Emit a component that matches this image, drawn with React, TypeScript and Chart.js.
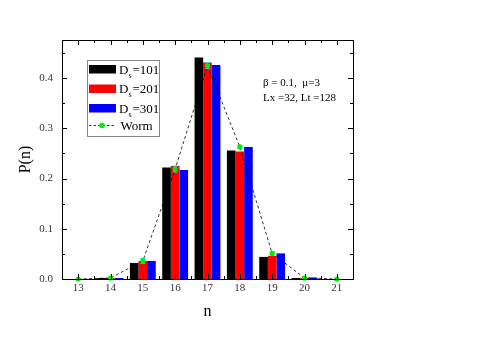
import React, { useEffect, useRef } from "react";
import { Chart, registerables } from "chart.js";

Chart.register(...registerables);

const categories = ["13", "14", "15", "16", "17", "18", "19", "20", "21"];
const ds101 = [0, 0.002, 0.032, 0.222, 0.441, 0.256, 0.044, 0.002, 0];
const ds201 = [0, 0.002, 0.036, 0.225, 0.431, 0.254, 0.046, 0.002, 0];
const ds301 = [0, 0.002, 0.036, 0.217, 0.426, 0.263, 0.051, 0.003, 0];
const worm = [0, 0.002, 0.036, 0.219, 0.425, 0.263, 0.051, 0.002, 0];
const wormErr = [0, 0.001, 0.005, 0.006, 0.006, 0.003, 0.003, 0.001, 0];
const yTicks = [0, 0.1, 0.2, 0.3, 0.4];
const legendLabels = ["101", "201", "301"];
const legendColors = ["#000000", "#ff0000", "#0000ff"];
const noteLines = ["\u03b2 = 0.1,  \u03bc=3", "Lx =32, Lt =128"];

const SERIF = "'Liberation Serif', 'Times New Roman', serif";

const framePlugin = {
  id: "frame",
  afterDatasetsDraw(chart: any) {
    const ctx = chart.ctx;
    const y = chart.scales.y;
    const meta = chart.getDatasetMeta(0);
    ctx.save();
    ctx.strokeStyle = "#00e0ff";
    ctx.lineWidth = 1;
    meta.data.forEach((pt: any, i: number) => {
      const e = wormErr[i];
      if (!e) return;
      const y1 = y.getPixelForValue(worm[i] + e);
      const y2 = y.getPixelForValue(worm[i] - e);
      ctx.beginPath();
      ctx.moveTo(pt.x, y1);
      ctx.lineTo(pt.x, y2);
      ctx.moveTo(pt.x - 2.5, y1);
      ctx.lineTo(pt.x + 2.5, y1);
      ctx.moveTo(pt.x - 2.5, y2);
      ctx.lineTo(pt.x + 2.5, y2);
      ctx.stroke();
    });
    ctx.fillStyle = "#00ee00";
    meta.data.forEach((pt: any) => {
      ctx.beginPath();
      ctx.arc(pt.x, pt.y, 2.6, 0, Math.PI * 2);
      ctx.fill();
    });
    ctx.restore();
  },
  afterDraw(chart: any) {
    const ctx = chart.ctx;
    const { left, right, top, bottom } = chart.chartArea;
    const x = chart.scales.x;
    const y = chart.scales.y;
    ctx.save();
    ctx.strokeStyle = "#000";
    ctx.lineWidth = 1;
    ctx.strokeRect(Math.round(left) + 0.5, Math.round(top) + 0.5, Math.round(right - left), Math.round(bottom - top));
    ctx.beginPath();
    for (let v = 0; v <= 0.476; v += 0.05) {
      const py = Math.round(y.getPixelForValue(v)) + 0.5;
      const major = Math.abs(v * 10 - Math.round(v * 10)) < 1e-6;
      const len = major ? 5 : 3;
      ctx.moveTo(left, py);
      ctx.lineTo(left + len, py);
      ctx.moveTo(right, py);
      ctx.lineTo(right - len, py);
    }
    for (let i = 0; i < categories.length; i++) {
      const px = Math.round(x.getPixelForValue(i)) + 0.5;
      ctx.moveTo(px, bottom);
      ctx.lineTo(px, bottom - 5);
      ctx.moveTo(px, top);
      ctx.lineTo(px, top + 5);
      if (i < categories.length - 1) {
        const hx = Math.round((x.getPixelForValue(i) + x.getPixelForValue(i + 1)) / 2) + 0.5;
        ctx.moveTo(hx, bottom);
        ctx.lineTo(hx, bottom - 3);
        ctx.moveTo(hx, top);
        ctx.lineTo(hx, top + 3);
      }
    }
    ctx.stroke();

    const lx = 87, ly = 60, lw = 72, lh = 76;
    ctx.strokeStyle = "#888";
    ctx.strokeRect(lx + 0.5, ly + 0.5, lw, lh);
    ctx.textBaseline = "alphabetic";
    for (let i = 0; i < 3; i++) {
      const ry = 65 + i * 19.5;
      ctx.fillStyle = legendColors[i];
      ctx.fillRect(89, ry, 27, 8.5);
      ctx.fillStyle = "#000";
      ctx.font = `13px ${SERIF}`;
      const base = ry + 8.5;
      ctx.fillText("D", 119, base);
      const dw = ctx.measureText("D").width;
      ctx.font = `8px ${SERIF}`;
      ctx.fillText("s", 119 + dw, base + 4);
      ctx.font = `13px ${SERIF}`;
      ctx.fillText("=" + legendLabels[i], 119 + dw + 4, base);
    }
    const wy = 125.5;
    ctx.strokeStyle = "#000";
    ctx.lineWidth = 0.8;
    ctx.setLineDash([2.5, 2]);
    ctx.beginPath();
    ctx.moveTo(89, wy);
    ctx.lineTo(116, wy);
    ctx.stroke();
    ctx.setLineDash([]);
    ctx.fillStyle = "#00ee00";
    ctx.beginPath();
    ctx.arc(102, wy, 2.8, 0, Math.PI * 2);
    ctx.fill();
    ctx.fillStyle = "#000";
    ctx.font = `13px ${SERIF}`;
    ctx.fillText("Worm", 120.5, wy + 4);

    ctx.font = `11px ${SERIF}`;
    ctx.fillText(noteLines[0], 263, 86);
    ctx.fillText(noteLines[1], 263, 101);
    ctx.restore();
  },
};

export default function App() {
  const ref = useRef<HTMLCanvasElement | null>(null);
  useEffect(() => {
    if (!ref.current) return;
    const barDs = (label: string, data: number[], color: string) => ({
      type: "bar" as const,
      label,
      data,
      backgroundColor: color,
      borderWidth: 0,
      categoryPercentage: 0.8,
      barPercentage: 1.0,
      order: 2,
    });
    const chart = new Chart(ref.current, {
      type: "bar",
      data: {
        labels: categories,
        datasets: [
          {
            type: "line" as const,
            label: "Worm",
            data: worm,
            borderColor: "#000",
            borderWidth: 0.8,
            borderDash: [3, 2.5],
            pointRadius: 0,
            fill: false,
            tension: 0,
            order: 0,
          } as any,
          barDs("Ds=101", ds101, "#000000"),
          barDs("Ds=201", ds201, "#ff0000"),
          barDs("Ds=301", ds301, "#0000ff"),
        ],
      },
      options: {
        animation: false,
        responsive: false,
        maintainAspectRatio: false,
        layout: { padding: { left: 0, top: 40, right: 145, bottom: 0 } },
        plugins: { legend: { display: false }, tooltip: { enabled: false } },
        scales: {
          x: {
            type: "category",
            offset: true,
            grid: { display: false, drawTicks: false },
            border: { display: false },
            ticks: { color: "#333", font: { family: SERIF, size: 11 }, padding: 3, maxRotation: 0 },
            title: {
              display: true,
              text: "n",
              color: "#000",
              font: { family: SERIF, size: 16 },
              padding: { top: 0, bottom: 27 },
            },
            afterFit(scale: any) {
              scale.height = 69;
            },
          },
          y: {
            type: "linear",
            min: 0,
            max: 0.476,
            grid: { display: false, drawTicks: false },
            border: { display: false },
            afterBuildTicks(scale: any) {
              scale.ticks = yTicks.map((v) => ({ value: v }));
            },
            ticks: {
              color: "#333",
              font: { family: SERIF, size: 11 },
              padding: 9,
              callback: (v: any) => Number(v).toFixed(1),
            },
            title: {
              display: true,
              text: "P(n)",
              color: "#000",
              font: { family: SERIF, size: 16 },
              padding: { top: 16, bottom: 0 },
            },
            afterFit(scale: any) {
              scale.width = 62;
            },
          },
        },
      },
      plugins: [framePlugin],
    });
    return () => chart.destroy();
  }, []);
  return (
    <div style={{ position: "absolute", left: 0, top: 0, width: 498, height: 348, background: "#fff" }}>
      <canvas ref={ref} width={498} height={348} style={{ width: 498, height: 348, display: "block" }} />
    </div>
  );
}
